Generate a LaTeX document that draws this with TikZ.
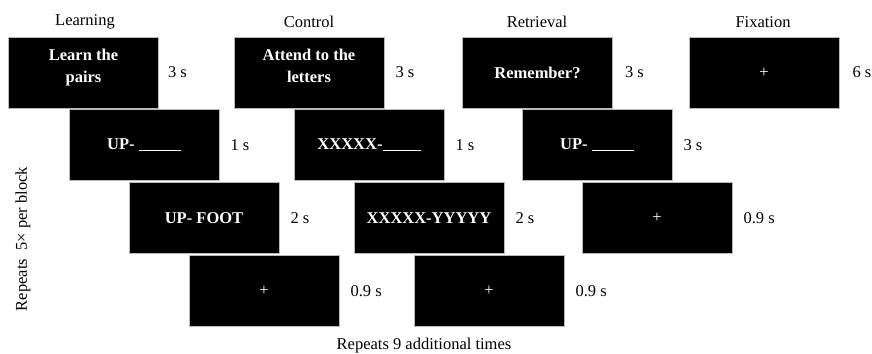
\documentclass[tikz,border=0pt]{standalone}
\usepackage{fontspec}
\setmainfont{Liberation Serif}
\usetikzlibrary{positioning}
\newcommand{\figsize}{\fontsize{16.5bp}{21.5bp}\selectfont}
\tikzset{
  screen/.style={draw=gray!55, line width=0.8bp, fill=black, text=white, font=\figsize\bfseries,
    minimum width=150bp, minimum height=71bp, align=center, inner sep=0pt},
  dur/.style={inner sep=0pt, anchor=west},
  head/.style={inner sep=0pt}
}
\newcommand{\blank}[1]{\rule[-1.5bp]{#1}{1bp}}
\newcommand{\twolines}[2]{\raisebox{1bp}[0pt][0pt]{\begin{tabular}{@{}c@{}}#1\\#2\end{tabular}}}
\begin{document}
\begin{tikzpicture}[x=1bp, y=-1bp, font=\figsize]
    \useasboundingbox (0,0) rectangle (872,353);
    % learning
    \node[screen] (l0) at (83.5,72.5) {\twolines{Learn the}{pairs}};
    \node[screen] (l1) at (144,145) {UP- \blank{42bp}};
    \node[screen] (l2) at (204,218) {UP- FOOT};
    \node[screen] (l3) at (264,291) {\mdseries+};
    % control
    \node[screen] (c0) at (309,72.5) {\twolines{Attend to the}{letters}};
    \node[screen] (c1) at (369,145) {XXXXX-\blank{38bp}};
    \node[screen] (c2) at (429,218) {XXXXX-YYYYY};
    \node[screen] (c3) at (489,291) {\mdseries+};
    % retrieval
    \node[screen] (r0) at (537.5,72.5) {Remember?};
    \node[screen] (r1) at (597,145) {UP- \blank{42bp}};
    \node[screen] (r2) at (657,218) {\mdseries+};
    % fixation
    \node[screen] (f0) at (764,72.5) {\mdseries+};
    % durations
    \node[dur, right=9bp of l0] (tl0) {3 s};
    \node[dur, right=11bp of l1] (tl1) {1 s};
    \node[dur, right=11bp of l2] (tl2) {2 s};
    \node[dur, right=11bp of l3] (tl3) {0.9 s};
    \node[dur, right=11bp of c0] (tc0) {3 s};
    \node[dur, right=11bp of c1] (tc1) {1 s};
    \node[dur, right=11bp of c2] (tc2) {2 s};
    \node[dur, right=11bp of c3] (tc3) {0.9 s};
    \node[dur, right=12bp of r0] (tr0) {3 s};
    \node[dur, right=11bp of r1] (tr1) {3 s};
    \node[dur, right=11bp of r2] (tr2) {0.9 s};
    \node[dur, right=13bp of f0] (tf0) {6 s};
    % headings
    \node[head] (hl) at (85,22) {Learning};
    \node[head] (hc) at (309,22) {Control};
    \node[head] (hr) at (537,22) {Retrieval};
    \node[head] (hf) at (763,22) {Fixation};
    \node[head, rotate=90] (rep5) at (23,239) {Repeats\ \ 5× per block};
    \node[head] (rep9) at (424,346) {Repeats 9 additional times};
\end{tikzpicture}
\end{document}
